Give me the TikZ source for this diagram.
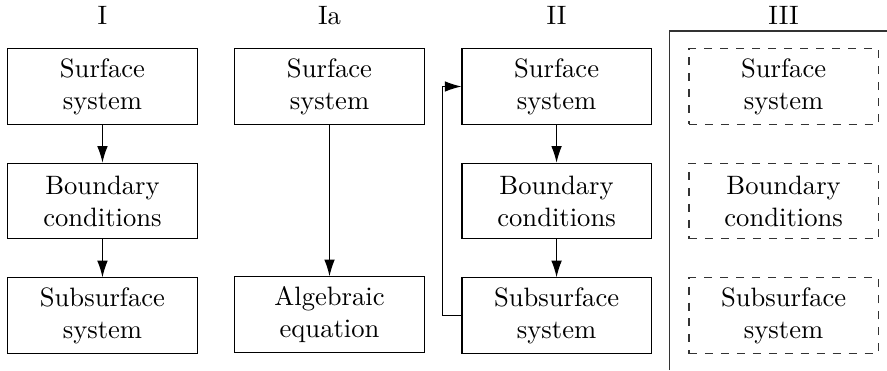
\documentclass[tikz,border=0pt]{standalone}
\usepackage{amsmath}
\usepackage{tikz}
\usetikzlibrary{shapes,arrows.meta,positioning}

\tikzset{
  block/.style={draw, rectangle, minimum width=2.5cm, minimum height=1cm, align=center, inner sep=1pt},
  dblock/.style={block, dashed, draw=black!80},
  link/.style={-{Latex[length=2.2mm,width=1.4mm]}}
}

\begin{document}
\begin{tikzpicture}
\useasboundingbox (0,0) rectangle (11.72,-4.89);
% Parameters
\def\dx{3}   % column spacing
\def\dy{1.5} % row spacing

% Column titles
\node (tI)   at (1.354,-0.2) {I};
\node (tIa)  at (1.354+\dx,-0.2) {Ia};
\node (tII)  at (1.354+2*\dx,-0.2) {II};
\node (tIII) at (1.354+3*\dx,-0.2) {III};

% Column I
\node[block] (surf1) at (1.354,-1.143) {Surface\\system};
\node[block, below=0.5cm of surf1] (bc1) {Boundary\\conditions};
\node[block, below=0.5cm of bc1] (sub1) {Subsurface\\system};
\draw[link] (surf1) -- (bc1);
\draw[link] (bc1) -- (sub1);

% Column Ia
\node[block] (surfa) at (1.354+\dx,-1.143) {Surface\\system};
\node[block, below=2cm of surfa] (alg) {Algebraic\\equation};
\draw[link] (surfa) -- (alg);

% Column II
\node[block] (surf2) at (1.354+2*\dx,-1.143) {Surface\\system};
\node[block, below=0.5cm of surf2] (bc2) {Boundary\\conditions};
\node[block, below=0.5cm of bc2] (sub2) {Subsurface\\system};
\draw[link] (surf2) -- (bc2);
\draw[link] (bc2) -- (sub2);
% Feedback loop
\draw[link] (sub2.west) -- ++(-0.25,0) |- (surf2.west);

% Column III
\coordinate (fbl) at (8.84,-4.89);
\coordinate (ftl) at (8.84,-0.41);
\coordinate (ftr) at (11.72,-0.41);
\draw[black!80] (fbl) -- (ftl) -- (ftr);
\node[dblock] (surf3) at (1.354+3*\dx,-1.143) {Surface\\system};
\node[dblock, below=0.5cm of surf3] (bc3) {Boundary\\conditions};
\node[dblock, below=0.5cm of bc3] (sub3) {Subsurface\\system};
\end{tikzpicture}
\end{document}
